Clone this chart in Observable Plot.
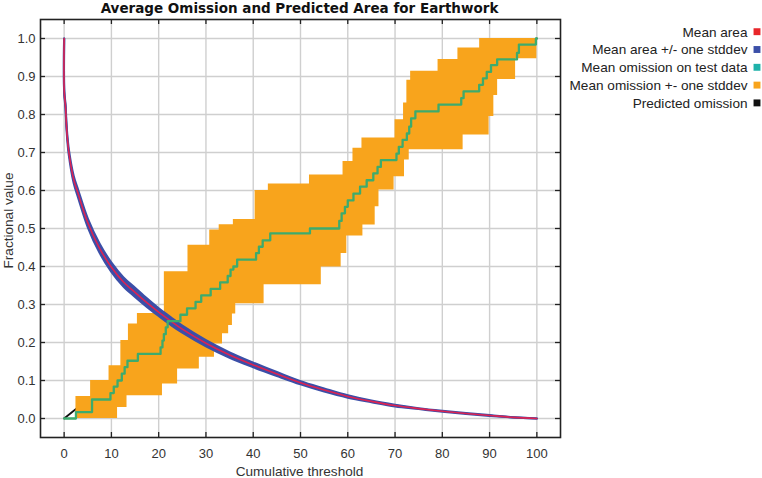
<!DOCTYPE html>
<html><head><meta charset="utf-8">
<script src="https://cdn.jsdelivr.net/npm/d3@7"></script>
<script src="https://cdn.jsdelivr.net/npm/@observablehq/plot@0.6"></script>
<style>
body{margin:0;background:#fff;}
#chart{width:762px;height:478px;}
</style></head>
<body><div id="chart"></div>
<script>
// ---- data ----
const xTicks = [0,10,20,30,40,50,60,70,80,90,100];
const yTicks = [0,0.1,0.2,0.3,0.4,0.5,0.6,0.7,0.8,0.9,1.0];

// Mean predicted area (fraction) vs cumulative threshold
const areaX    = [0,0.02,0.3,0.45,0.7,1,2,3,5,7.5,10,12.5,15,17.5,20,22.5,25,30,35,40,45,50,55,60,65,70,75,80,85,90,95,100];
const areaMean = [1.0,0.86,0.82,0.78,0.735,0.70,0.63,0.59,0.515,0.448,0.398,0.36,0.332,0.305,0.28,0.257,0.235,0.198,0.167,0.141,0.117,0.094,0.075,0.058,0.045,0.034,0.026,0.019,0.013,0.008,0.003,0.0];
const areaSd   = [0,0.003,0.004,0.005,0.006,0.007,0.009,0.010,0.011,0.012,0.012,0.012,0.012,0.011,0.010,0.010,0.009,0.008,0.007,0.006,0.005,0.004,0.004,0.003,0.002,0.002,0.001,0.001,0.001,0.001,0,0];

// Mean omission on test data (step function)
const omX = [0,2.5,5.9,9.8,10.5,11.3,12.2,12.8,13.4,15.6,20.4,20.8,21.1,21.5,21.9,24.6,26.0,27.8,29.0,31.0,33.0,34.6,35.2,35.8,36.6,40.6,41.2,42.0,43.6,52.0,58.2,58.7,59.4,60.0,61.2,62.6,64.0,65.4,66.3,67.0,70.3,70.8,71.6,72.5,73.0,73.4,74.3,79.2,84.0,84.5,87.8,88.6,89.4,90.3,91.6,95.8,96.2,99.8,100];
const omY = [0,0.017,0.05,0.067,0.084,0.10,0.118,0.135,0.152,0.17,0.187,0.205,0.222,0.24,0.256,0.273,0.29,0.307,0.324,0.341,0.358,0.375,0.392,0.40,0.418,0.435,0.452,0.469,0.487,0.50,0.52,0.54,0.557,0.574,0.592,0.61,0.627,0.645,0.662,0.68,0.697,0.715,0.733,0.75,0.768,0.79,0.808,0.826,0.843,0.861,0.878,0.895,0.912,0.93,0.945,0.962,0.984,1.0,1.0];

// Mean omission +/- one stddev (step functions)
const hiX = [2.5,5.6,9.5,12.0,13.6,15.5,21.2,26.2,30.8,32.8,35.8,40.4,43.2,51.9,59.0,61.1,63.0,70.0,71.8,72.5,73.3,79.1,83.3,87.9,100];
const hiY = [0.058,0.10,0.139,0.205,0.249,0.276,0.386,0.456,0.496,0.51,0.524,0.60,0.617,0.641,0.676,0.711,0.738,0.786,0.83,0.89,0.914,0.945,0.975,1.0,1.0];
const loX = [2.5,11.3,13.3,20.8,24.0,28.6,31.8,33.5,34.8,35.6,36.3,42.3,54.4,58.6,59.8,63.2,65.8,66.6,69.8,72.0,73.0,84.4,89.9,90.9,91.7,95.5,100];
const loY = [0,0.029,0.06,0.091,0.13,0.161,0.196,0.223,0.245,0.275,0.302,0.352,0.399,0.434,0.48,0.509,0.557,0.601,0.636,0.68,0.707,0.746,0.795,0.85,0.892,0.947,0.947];

// Predicted omission (diagonal)
const predX = [0,100];
const predY = [0,1];

const legendLabels = ["Mean area","Mean area +/- one stddev","Mean omission on test data","Mean omission +- one stddev","Predicted omission"];
const legendColors = ["#e8262a","#3b4fa8","#1fb2aa","#f8a41c","#111111"];

// ---- tables built from the arrays ----
const areaTable = areaX.map((x,i)=>({x, m: areaMean[i], lo: areaMean[i]-areaSd[i], hi: areaMean[i]+areaSd[i]}));
const omTable = omX.map((x,i)=>({x, y: omY[i]}));
const predTable = predX.map((x,i)=>({x, y: predY[i]}));
function stepAt(xs, ys, t){ let v = ys[0]; for (let i=0;i<xs.length;i++){ if (xs[i] <= t) v = ys[i]; } return v; }
const bandXs = Array.from(new Set([...hiX, ...loX])).sort((a,b)=>a-b);
const bandTable = bandXs.map(x=>({x, lo: stepAt(loX,loY,x), hi: stepAt(hiX,hiY,x)}));

const W=762, H=478, mL=40, mR=202, mT=19, mB=41;
const fw = W-mL-mR, fh = H-mT-mB;
const tick = 5;

const legendMarks = legendLabels.flatMap((lab,i)=>[
  Plot.text([lab], {frameAnchor:"top-right", dx:187, dy:12.7+i*17.8, textAnchor:"end", lineAnchor:"middle", fill:"#222", fontSize:13.6}),
  Plot.dot([0], {frameAnchor:"top-right", dx:196.5, dy:12.2+i*17.8, symbol:"square", r:3.9, fill:legendColors[i], stroke:null})
]);

const chart = Plot.plot({
  width:W, height:H, marginLeft:mL, marginRight:mR, marginTop:mT, marginBottom:mB,
  x:{domain:[-5,105]}, y:{domain:[-0.05,1.05]},
  style:{fontFamily:"'Liberation Sans', Arial, sans-serif", fontSize:"13px", background:"#fff", color:"#333"},
  marks:[
    Plot.gridX(xTicks, {stroke:"#cfcfcf", strokeOpacity:1, strokeWidth:1.4}),
    Plot.gridY(yTicks, {stroke:"#cfcfcf", strokeOpacity:1, strokeWidth:1.4}),
    Plot.line(predTable, {x:"x", y:"y", stroke:"#111", strokeWidth:1.8}),
    Plot.areaY(bandTable, {x:"x", y1:"lo", y2:"hi", curve:"step-after", fill:"#f8a41c", fillOpacity:1}),
    Plot.areaY(areaTable, {x:"x", y1:"lo", y2:"hi", curve:"catmull-rom", fill:"#3b4fa8"}),
    Plot.line(areaTable, {x:"x", y:"lo", curve:"catmull-rom", stroke:"#3b4fa8", strokeWidth:2.2}),
    Plot.line(areaTable, {x:"x", y:"hi", curve:"catmull-rom", stroke:"#3b4fa8", strokeWidth:2.2}),
    Plot.line(areaTable, {x:"x", y:"m", curve:"catmull-rom", stroke:"#dc2352", strokeWidth:1.6}),
    Plot.line(omTable, {x:"x", y:"y", curve:"step-after", stroke:"#3dab6d", strokeWidth:2.3}),
    Plot.frame({stroke:"#222", strokeWidth:1.6}),
    Plot.tickX(xTicks, {x:d=>d, insetTop:fh-tick, stroke:"#222", strokeWidth:1.3}),
    Plot.tickX(xTicks, {x:d=>d, insetBottom:fh-tick, stroke:"#222", strokeWidth:1.3}),
    Plot.tickY(yTicks, {y:d=>d, insetRight:fw-tick, stroke:"#222", strokeWidth:1.3}),
    Plot.tickY(yTicks, {y:d=>d, insetLeft:fw-tick, stroke:"#222", strokeWidth:1.3}),
    Plot.axisX(xTicks, {tickSize:0, tickPadding:11, label:null, fill:"#333"}),
    Plot.axisY(yTicks, {tickSize:0, tickPadding:5, label:null, tickFormat:d=>d.toFixed(1), fill:"#333"}),
    Plot.text(["Average Omission and Predicted Area for Earthwork"], {frameAnchor:"top", dx:-1, dy:-11, fontWeight:"bold", fontSize:13.5, fontFamily:"'DejaVu Sans', sans-serif", fill:"#111", lineAnchor:"middle"}),
    Plot.text(["Cumulative threshold"], {frameAnchor:"bottom", dx:-1, dy:34, fill:"#333", lineAnchor:"middle", fontSize:13.6}),
    Plot.text(["Fractional value"], {frameAnchor:"left", dx:-31.5, dy:-8, rotate:-90, textAnchor:"middle", fill:"#333", lineAnchor:"middle", fontSize:13.6}),
    ...legendMarks
  ]
});
document.getElementById("chart").appendChild(chart);
</script>
</body></html>
